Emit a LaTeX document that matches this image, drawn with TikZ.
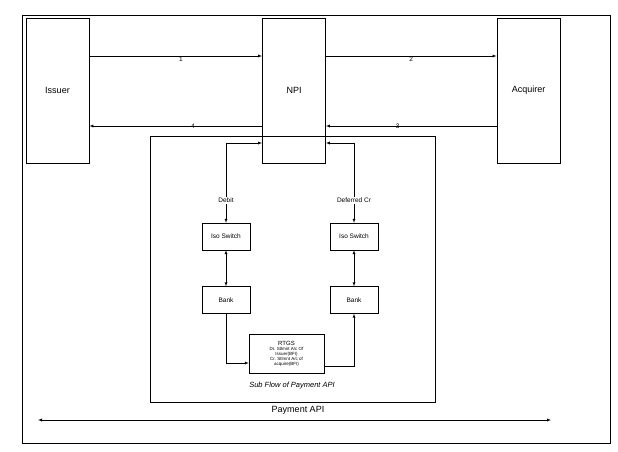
\documentclass[tikz,border=0pt]{standalone}
\usepackage{fontspec}
\setmainfont{Liberation Sans}
\begin{document}
\begin{tikzpicture}[x=1pt,y=-1pt]
 \tikzstyle{party}=[rectangle, draw, thick, minimum width=63pt, minimum height=145pt, font=\fontsize{9}{10}\selectfont]
 \tikzstyle{stage}=[rectangle, draw, minimum width=48pt, minimum height=27pt, font=\fontsize{6.5}{7}\selectfont]
 \tikzstyle{flow}=[->, >=latex]
 \tikzstyle{lbl}=[font=\fontsize{6.5}{7}\selectfont, inner sep=1pt]
 \useasboundingbox (0,0) rectangle (618,452);
 \draw (22,15) rectangle (610,443);
 %
 \node[party] (ISS) at (57.5,90.5) {Issuer};
 \node[party] (NPI) at (294,90.5) {NPI};
 \node[party] (ACQ) at (528.5,90.5) {Acquirer};
 %
 \draw (150,136) rectangle (435,402);
 \node[stage] (ISO1) at (226,236.5) {Iso Switch};
 \node[stage] (ISO2) at (354,236.5) {Iso Switch};
 \node[stage] (BNK1) at (226,300) {Bank};
 \node[stage] (BNK2) at (354,300) {Bank};
 \node[rectangle, draw, minimum width=75pt, minimum height=39pt, align=center, font=\fontsize{4.5}{5}\selectfont] (RTGS) at (286.5,353.5)
  {{\fontsize{6}{6}\selectfont RTGS}\\Dr. Stlmnt A/c Of\\Issuer(BFI)\\Cr. Stlmnt A/c of\\acquire(BFI)};
 \node[font=\itshape\fontsize{7.5}{8}\selectfont] (SUB) at (292,386) {Sub Flow of Payment API};
 %
 \coordinate (PL) at (38,420);
 \coordinate (PR) at (551,420);
 \node[font=\fontsize{9}{10}\selectfont] (PAY) at (298,410) {Payment API};
 %%
 \draw[flow] (ISS.east|-0,56) -- node[lbl, below, pos=0.53] {1} (NPI.west|-0,56);
 \draw[flow] (NPI.east|-0,56) -- node[lbl, below, pos=0.5] {2} (ACQ.west|-0,56);
 \draw[flow] (ACQ.west|-0,126) -- node[lbl, pos=0.58] {3} (NPI.east|-0,126);
 \draw[flow] (NPI.west|-0,126) -- node[lbl, pos=0.4] {4} (ISS.east|-0,126);
 \draw[<->, >=latex] (PL) -- (PR);
 %
 \draw[<->, >=latex] (NPI.west|-0,143) -| node[lbl, pos=0.86, fill=white] {Debit} (ISO1.north);
 \draw[<->, >=latex] (NPI.east|-0,143) -| node[lbl, pos=0.86, fill=white] {Deferred Cr} (ISO2.north);
 \draw[<->, >=latex] (ISO1) -- (BNK1);
 \draw[<->, >=latex] (ISO2) -- (BNK2);
 \draw[flow] (BNK1.south) |- (RTGS.west|-0,363);
 \draw[flow] (RTGS.east|-0,366) -| (BNK2.south);
\end{tikzpicture}
\end{document}
